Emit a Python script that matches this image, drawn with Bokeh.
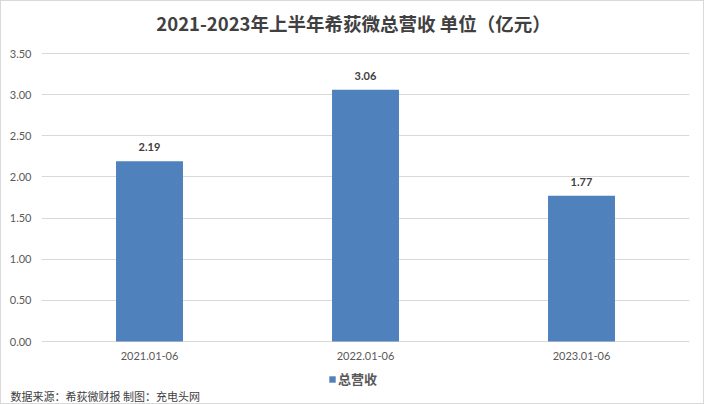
from bokeh.plotting import figure
from bokeh.models import (ColumnDataSource, Legend, LegendItem, FixedTicker, Range1d,
                          NumeralTickFormatter, Title, Label)
from bokeh.embed import file_html
from bokeh.resources import INLINE
from bokeh.core.properties import value

periods = ["2021.01-06", "2022.01-06", "2023.01-06"]
revenue = [2.19, 3.06, 1.77]
labels = ["2.19", "3.06", "1.77"]
y_ticks = [0, 0.5, 1.0, 1.5, 2.0, 2.5, 3.0, 3.5]

title_text = "2021-2023年上半年希荻微总营收 单位（亿元）"
series_name = "总营收"
source_text = "数据来源：希荻微财报 制图：充电头网"

GRAY = "#595959"
DARK = "#404040"
BLUE = "#4F81BD"
FONT = "Noto Sans CJK SC"

src = ColumnDataSource(dict(x=periods, top=revenue, lab=labels, base=[0] * len(periods)))

# frame spans above the 3.5 line and below zero so title and legend sit inside it
p = figure(width=704, height=404, x_range=periods, y_range=Range1d(-0.559, 4.132),
           output_backend="svg", toolbar_location=None,
           min_border_left=40, min_border_right=16, min_border_top=0, min_border_bottom=0)
p.outline_line_color = None
p.background_fill_color = "white"
p.border_fill_color = "white"

r = p.vbar(x="x", top="top", width=0.31, source=src, fill_color=BLUE, line_color=None)

p.text(x="x", y="top", text="lab", source=src, text_align="center", text_baseline="bottom",
       y_offset=-10, text_font=value("Lato"), text_font_size="11px", text_font_style="bold",
       text_color=DARK)
# category labels under the zero line
p.text(x="x", y="base", text="x", source=src, text_align="center", text_baseline="middle",
       y_offset=14, text_font=value("Lato"), text_font_size="11px", text_color=GRAY)

p.xaxis.visible = False
p.yaxis.ticker = FixedTicker(ticks=y_ticks)
p.yaxis.formatter = NumeralTickFormatter(format="0.00")
ax = p.yaxis[0]
ax.axis_line_color = None
ax.major_tick_line_color = None
ax.minor_tick_line_color = None
ax.major_label_text_color = GRAY
ax.major_label_text_font = "Lato"
ax.major_label_text_font_size = "11px"
ax.major_label_standoff = 4
p.xgrid.grid_line_color = None
p.ygrid.grid_line_color = "#D9D9D9"
p.ygrid.ticker = FixedTicker(ticks=y_ticks)

p.add_layout(Label(x=312, y=365, x_units="screen", y_units="screen", text=title_text,
                   text_align="center", text_baseline="middle", text_font=FONT,
                   text_font_size="18.5px", text_font_style="bold", text_color=DARK))

legend = Legend(items=[LegendItem(label=series_name, renderers=[r])], orientation="horizontal",
                location=(287, -1), glyph_width=8, glyph_height=8, label_text_font=FONT,
                label_text_font_size="13px", label_text_font_style="bold",
                label_text_color=GRAY, border_line_color=None,
                background_fill_alpha=0, padding=0, margin=0, spacing=2, label_standoff=2,
                label_height=12)
p.add_layout(legend, "center")

src_title = Title(text=source_text, align="left", vertical_align="top", text_font=FONT,
                  text_font_size="11px", text_font_style="normal", text_color=DARK,
                  offset=-31, standoff=0)
p.add_layout(src_title, "below")

p.styles = {"border": "1px solid #D9D9D9", "box-sizing": "border-box"}

open("out.html", "w").write(file_html(p, INLINE))
